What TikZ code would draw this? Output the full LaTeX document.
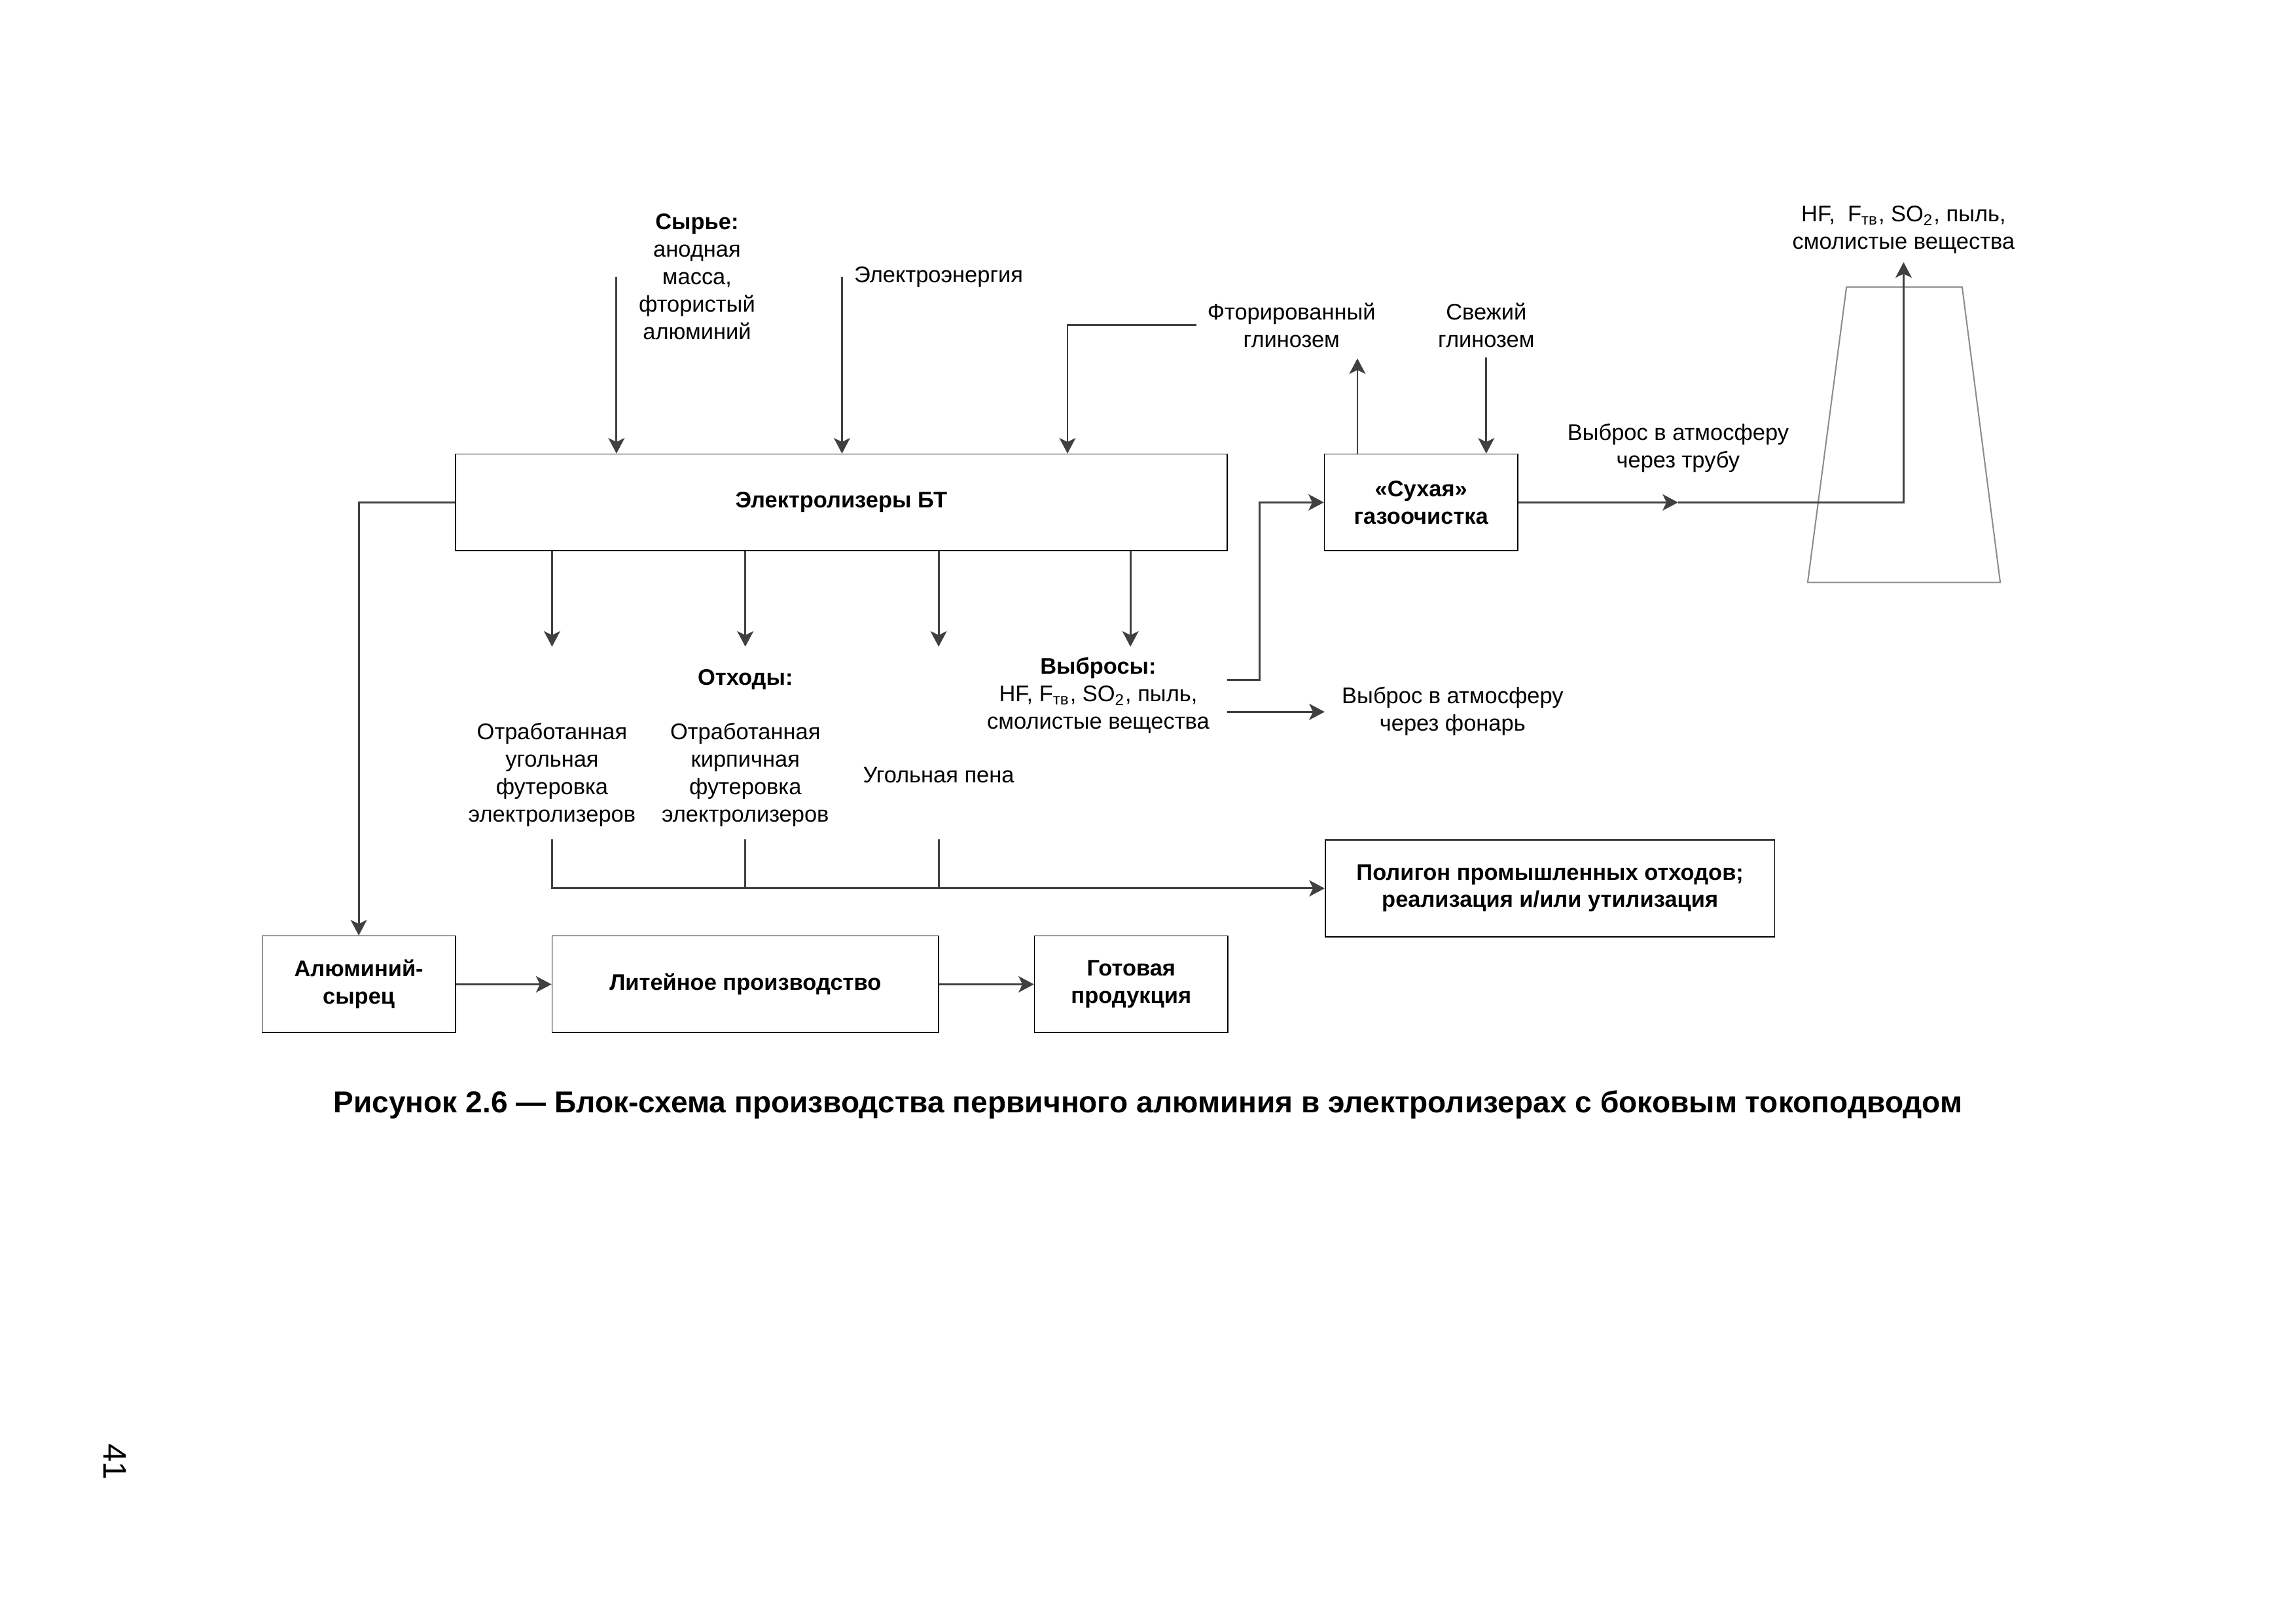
\documentclass[tikz,border=0pt]{standalone}
\usepackage{fontspec}
\setmainfont{Liberation Sans}
\usetikzlibrary{arrows.meta}
\def\uu{0.18941mm}
\begin{document}
\begin{tikzpicture}[x=0.18941mm, y=-0.18941mm,
  font=\fontsize{8.3}{10.1}\selectfont,
  box/.style={draw=black, line width=0.4pt, inner sep=0pt, align=center,
    font=\fontsize{8.3}{10}\selectfont\bfseries, minimum height=66*\uu},
  conn/.style={draw=black!75, line width=0.7pt},
  arr/.style={conn, -{Stealth[length=2mm,width=2.1mm,inset=0.5mm]}},
  lbl/.style={align=center, inner sep=0pt},
  chim/.style={draw=black!45, line width=0.5pt}]
\useasboundingbox (0,0) rectangle (1568,1108);

% boxes
\node[box, minimum width=527*\uu] (el) at (574.5,343) {Электролизеры БТ};
\node[box, minimum width=132*\uu] (gas) at (970.5,343) {«Сухая»\\газоочистка};
\node[box, minimum width=307*\uu] (pol) at (1058.5,606.5) {Полигон промышленных отходов;\\реализация и/или утилизация};
\node[box, minimum width=132*\uu] (al) at (245,672) {Алюминий-\\сырец};
\node[box, minimum width=264*\uu] (lit) at (509,672) {Литейное производство};
\node[box, minimum width=132*\uu] (gp) at (772.5,672) {Готовая\\продукция};

% labels
\node[lbl] (syr) at (476,189) {\textbf{Сырье:}\\анодная\\масса,\\фтористый\\алюминий};
\node[lbl, anchor=west] (elen) at (583,189) {Электроэнергия};
\node[lbl] (ftg) at (882,222) {Фторированный\\глинозем};
\node[lbl] (svg) at (1015,222) {Свежий\\глинозем};
\node[lbl] (vtr) at (1146,306) {Выброс в атмосферу\\через трубу};
\node[lbl] (hft) at (1300,157) {HF,\ \ F\textsubscript{тв}, SO\textsubscript{2}, пыль,\\смолистые вещества};
\node[lbl] (otx) at (509,464) {\textbf{Отходы:}};
\node[lbl] (vyb) at (750,475) {\textbf{Выбросы:}\\HF, F\textsubscript{тв}, SO\textsubscript{2}, пыль,\\смолистые вещества};
\node[lbl] (vfn) at (992,485.5) {Выброс в атмосферу\\через фонарь};
\node[lbl] (w1) at (377,529) {Отработанная\\угольная\\футеровка\\электролизеров};
\node[lbl] (w2) at (509,529) {Отработанная\\кирпичная\\футеровка\\электролизеров};
\node[lbl] (w3) at (641,529) {Угольная пена};

\node[inner sep=0pt] (cap) at (784,754) {\fontsize{11.1}{13}\selectfont\bfseries Рисунок 2.6 — Блок-схема производства первичного алюминия в электролизерах с боковым токоподводом};
\node[inner sep=0pt, rotate=-90] (pg) at (78.7,998) {\fontsize{12}{14}\selectfont 41};

% chimney
\draw[chim] (1261,196) -- (1340,196) -- (1366,397.6) -- (1234.5,397.6) -- cycle;

% coordinates
\coordinate (s1) at (421,189);
\coordinate (s2) at (575,189);
\coordinate (f1) at (817,222);
\coordinate (f2) at (729,222);
\coordinate (g1) at (927,244.7);
\coordinate (g2) at (1015,244);
\coordinate (mid) at (1146,343);
\coordinate (top) at (1300,179);
\coordinate (d1) at (377,441.5);
\coordinate (d2) at (509,441.5);
\coordinate (d3) at (641,441.5);
\coordinate (d4) at (772,441.5);
\coordinate (v1) at (838,464);
\coordinate (v2) at (860,464);
\coordinate (v3) at (838,486);
\coordinate (b1) at (377,573);
\coordinate (b2) at (509,573);
\coordinate (b3) at (641,573);

% connectors
\draw[arr] (s1) -- (s1 |- el.north);
\draw[arr] (s2) -- (s2 |- el.north);
\draw[arr] (f1) -- (f2) -- (f2 |- el.north);
\draw[arr] (g1 |- gas.north) -- (g1);
\draw[arr] (g2) -- (g2 |- gas.north);
\draw[arr] (gas.east) -- (mid);
\draw[arr] (mid) -- (top |- mid) -- (top);
\draw[arr] (d1 |- el.south) -- (d1);
\draw[arr] (d2 |- el.south) -- (d2);
\draw[arr] (d3 |- el.south) -- (d3);
\draw[arr] (d4 |- el.south) -- (d4);
\draw[arr] (v1) -- (v2) |- (gas.west);
\draw[arr] (v3) -- (v3 -| pol.west);
\draw[arr] (b1) -- (b1 |- pol.west) -- (pol.west);
\draw[conn] (b2) -- (b2 |- pol.west);
\draw[conn] (b3) -- (b3 |- pol.west);
\draw[arr] (el.west) -| (al.north);
\draw[arr] (al) -- (lit);
\draw[arr] (lit) -- (gp);
\end{tikzpicture}
\end{document}
